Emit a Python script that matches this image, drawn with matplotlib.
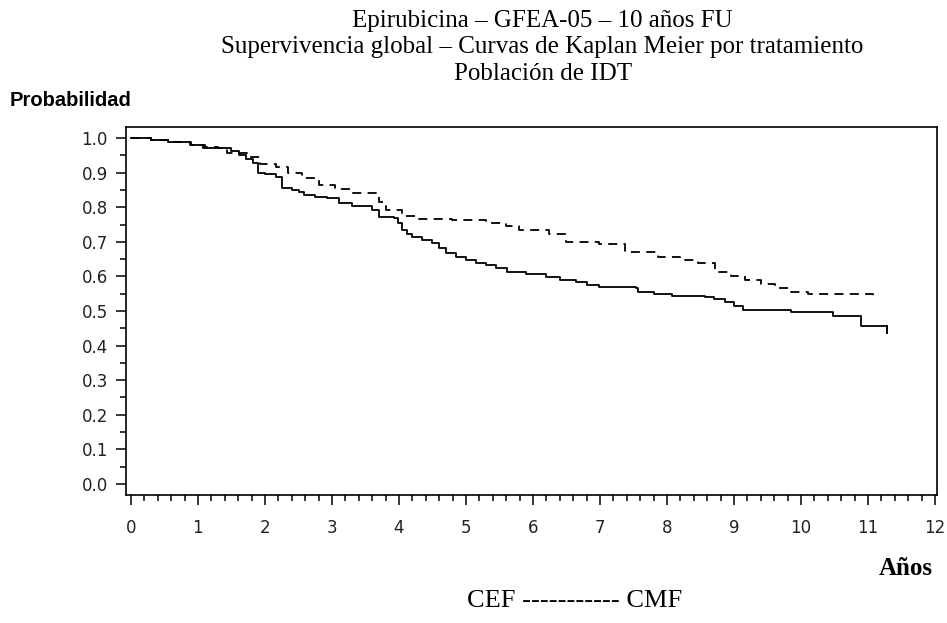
import numpy as np
import matplotlib.pyplot as plt
from matplotlib.ticker import MultipleLocator

# Kaplan-Meier estimates (years, survival probability)
cef_time = [0.0, 0.3, 0.55, 0.88, 1.07, 1.35, 1.5, 1.62, 1.72, 1.82, 1.89, 2.0, 2.17,
            2.26, 2.4, 2.51, 2.59, 2.75, 2.92, 3.11, 3.3, 3.6, 3.7, 3.93, 3.98,
            4.05, 4.12, 4.2, 4.35, 4.5, 4.6, 4.7, 4.85, 5.0, 5.15, 5.3, 5.45,
            5.61, 5.9, 6.19, 6.4, 6.64, 6.8, 6.98, 7.53, 7.57, 7.8, 8.07, 8.57,
            8.7, 8.87, 9.0, 9.14, 9.85, 10.48, 10.89, 11.29]
cef_surv = [1.0, 0.996, 0.99, 0.98, 0.971, 0.971, 0.962, 0.95, 0.94, 0.928, 0.90,
            0.895, 0.887, 0.855, 0.85, 0.844, 0.835, 0.83, 0.827, 0.812, 0.805,
            0.792, 0.772, 0.769, 0.755, 0.734, 0.722, 0.714, 0.705, 0.697, 0.682,
            0.668, 0.655, 0.647, 0.64, 0.633, 0.624, 0.613, 0.606, 0.598, 0.59,
            0.584, 0.576, 0.569, 0.566, 0.555, 0.55, 0.544, 0.541, 0.535, 0.526,
            0.515, 0.503, 0.497, 0.486, 0.457, 0.436]

cmf_time = [0.0, 0.3, 0.6, 0.9, 1.1, 1.3, 1.43, 1.73, 1.92, 2.17, 2.35, 2.56, 2.81,
            3.05, 3.3, 3.7, 3.81, 4.05, 4.3, 4.79, 5.3, 5.6, 5.79, 6.24, 6.49,
            6.98, 7.38, 7.87, 8.2, 8.47, 8.72, 8.95, 9.17, 9.4, 9.61, 9.85, 10.1,
            11.07]
cmf_surv = [1.0, 0.996, 0.99, 0.98, 0.975, 0.971, 0.957, 0.945, 0.925, 0.916,
            0.90, 0.884, 0.864, 0.852, 0.841, 0.815, 0.792, 0.775, 0.766, 0.763,
            0.754, 0.746, 0.734, 0.722, 0.70, 0.693, 0.671, 0.657, 0.648, 0.639,
            0.613, 0.60, 0.59, 0.577, 0.566, 0.556, 0.549, 0.535]

title_lines = ["Epirubicina \u2013 GFEA-05 \u2013 10 años FU",
               "Supervivencia global \u2013 Curvas de Kaplan Meier por tratamiento",
               "Población de IDT"]

fig = plt.figure(figsize=(9.47, 6.23), dpi=100)
ax = fig.add_axes([0.133, 0.2055, 0.8565, 0.5905])

ax.plot(cef_time, cef_surv, drawstyle='steps-post', color='black', lw=1.3)
ax.plot([cef_time[-1], cef_time[-1]], [cef_surv[-2], cef_surv[-1]], color='black', lw=1.3)
line, = ax.plot(cmf_time, cmf_surv, drawstyle='steps-post', color='black', lw=1.3)
line.set_dashes([5, 3.5])

ax.set_xlim(-0.074, 12.03)
ax.set_ylim(-0.032, 1.032)
ax.xaxis.set_major_locator(MultipleLocator(1))
ax.xaxis.set_minor_locator(MultipleLocator(0.2))
ax.yaxis.set_minor_locator(MultipleLocator(0.05))
ax.set_yticks(np.arange(0, 1.01, 0.1))
ax.set_yticklabels([f"{v:.1f}" for v in np.arange(0, 1.01, 0.1)])
ax.tick_params(which='major', direction='out', length=7, width=1.1, labelsize=12,
               labelcolor='#222222', pad=6)
ax.tick_params(which='minor', direction='out', length=4, width=1.1)
ax.tick_params(axis='x', which='both', pad=10)
for s in ax.spines.values():
    s.set_linewidth(1.2)

for i, t in enumerate(title_lines):
    fig.text(0.573, 0.966 - i * 0.042, t, ha='center', va='center',
             family='Liberation Serif', fontsize=18)

fig.text(0.010, 0.838, "Probabilidad", ha='left', va='center',
         family='Liberation Sans', fontweight='bold', fontsize=14.5)
fig.text(0.985, 0.087, "Años", ha='right', va='center',
         family='Liberation Serif', fontweight='bold', fontsize=18)
fig.text(0.607, 0.035, "CEF ----------- CMF", ha='center', va='center',
         family='Liberation Serif', fontsize=19)

fig.savefig("out.png", dpi=100)
